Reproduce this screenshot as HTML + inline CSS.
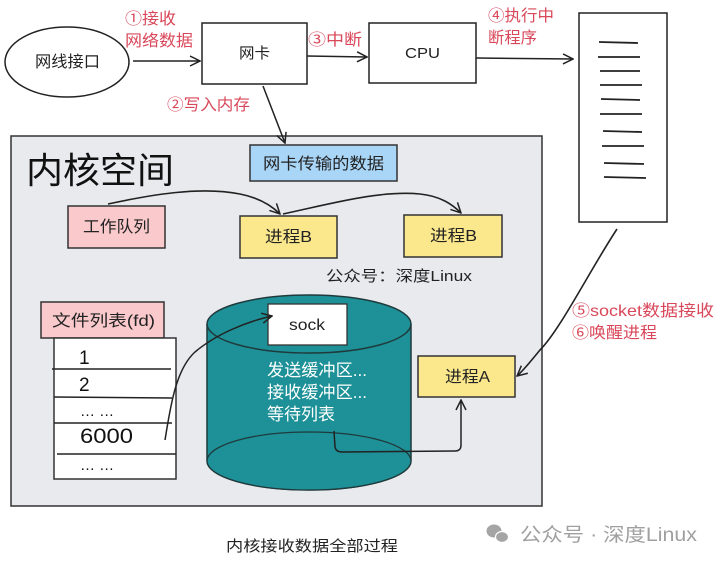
<!DOCTYPE html>
<html><head><meta charset="utf-8"><style>
html,body{margin:0;padding:0;background:#fff;width:720px;height:564px;overflow:hidden}
svg{display:block}
text{font-family:"Liberation Sans","Noto Sans CJK SC",sans-serif}
</style></head><body>
<svg width="720" height="564" viewBox="0 0 720 564" xmlns="http://www.w3.org/2000/svg">
<defs>
<marker id="ah" viewBox="0 0 12 12" refX="11" refY="6" markerWidth="12" markerHeight="12" markerUnits="userSpaceOnUse" orient="auto">
<path d="M1,1 L11,6 L1,11" fill="none" stroke="#222" stroke-width="1.5"/>
</marker>
</defs>
<rect width="720" height="564" fill="#fff"/>

<!-- kernel space -->
<rect x="11" y="136" width="531" height="370" fill="#e9eaee" stroke="#333" stroke-width="1.5"/>
<text x="26" y="183" font-size="36" fill="#111" textLength="148" lengthAdjust="spacingAndGlyphs">内核空间</text>

<!-- ellipse -->
<ellipse cx="67" cy="62" rx="62" ry="35" fill="#fff" stroke="#222" stroke-width="1.5"/>
<text x="35" y="67" font-size="16" fill="#222" textLength="65" lengthAdjust="spacingAndGlyphs">网线接口</text>
<line x1="133" y1="61" x2="200" y2="61" stroke="#222" stroke-width="1.5" marker-end="url(#ah)"/>
<text x="125" y="24" font-size="16" fill="#d9485a" textLength="51" lengthAdjust="spacingAndGlyphs">①接收</text>
<text x="125" y="46" font-size="16" fill="#d9485a" textLength="68" lengthAdjust="spacingAndGlyphs">网络数据</text>

<!-- NIC -->
<rect x="202" y="23" width="105" height="61" fill="#fff" stroke="#222" stroke-width="1.5"/>
<text x="239" y="58" font-size="15" fill="#222" textLength="31" lengthAdjust="spacingAndGlyphs">网卡</text>
<line x1="307" y1="56" x2="367" y2="57" stroke="#222" stroke-width="1.5" marker-end="url(#ah)"/>
<text x="308" y="45" font-size="16" fill="#d9485a" textLength="54" lengthAdjust="spacingAndGlyphs">③中断</text>

<!-- CPU -->
<rect x="369" y="23" width="107" height="60" fill="#fff" stroke="#222" stroke-width="1.5"/>
<text x="405" y="58" font-size="15" fill="#222" textLength="35" lengthAdjust="spacingAndGlyphs">CPU</text>
<line x1="476" y1="58" x2="573" y2="59" stroke="#222" stroke-width="1.5" marker-end="url(#ah)"/>
<text x="488" y="21" font-size="16" fill="#d9485a" textLength="66" lengthAdjust="spacingAndGlyphs">④执行中</text>
<text x="488" y="43" font-size="16" fill="#d9485a" textLength="49" lengthAdjust="spacingAndGlyphs">断程序</text>

<!-- tall box -->
<rect x="579" y="13" width="88" height="209" fill="#fff" stroke="#222" stroke-width="1.5"/>
<g stroke="#222" stroke-width="1.8">
<line x1="599" y1="42" x2="638" y2="43"/>
<line x1="598" y1="57" x2="640" y2="57"/>
<line x1="600" y1="71" x2="640" y2="71"/>
<line x1="600" y1="85" x2="642" y2="85"/>
<line x1="601" y1="99" x2="640" y2="100"/>
<line x1="600" y1="114" x2="642" y2="114"/>
<line x1="603" y1="131" x2="642" y2="132"/>
<line x1="602" y1="146" x2="644" y2="146"/>
<line x1="604" y1="163" x2="644" y2="164"/>
<line x1="604" y1="177" x2="646" y2="178"/>
</g>

<!-- write memory -->
<line x1="263" y1="86" x2="285" y2="143" stroke="#222" stroke-width="1.5" marker-end="url(#ah)"/>
<text x="167" y="110" font-size="16" fill="#d9485a" textLength="83" lengthAdjust="spacingAndGlyphs">②写入内存</text>

<!-- NIC data -->
<rect x="250" y="145" width="147" height="36" fill="#a9d5f7" stroke="#333" stroke-width="1.5"/>
<text x="263" y="169" font-size="16" fill="#222" textLength="121" lengthAdjust="spacingAndGlyphs">网卡传输的数据</text>

<!-- work queue -->
<rect x="68" y="206" width="97" height="42" fill="#f9c9cc" stroke="#333" stroke-width="1.5"/>
<text x="83" y="232" font-size="16" fill="#222" textLength="67" lengthAdjust="spacingAndGlyphs">工作队列</text>

<rect x="240" y="216" width="97" height="42" fill="#fbe88c" stroke="#333" stroke-width="1.5"/>
<text x="265" y="242" font-size="16" fill="#222" textLength="47" lengthAdjust="spacingAndGlyphs">进程B</text>
<rect x="404" y="215" width="98" height="42" fill="#fbe88c" stroke="#333" stroke-width="1.5"/>
<text x="430" y="241" font-size="16" fill="#222" textLength="47" lengthAdjust="spacingAndGlyphs">进程B</text>

<path d="M108,204 C150,195 200,186 240,194 C260,198 272,206 280,214" fill="none" stroke="#222" stroke-width="1.6" marker-end="url(#ah)"/>
<path d="M283,214 C330,204 380,190 420,194 C440,196 452,204 461,213" fill="none" stroke="#222" stroke-width="1.6" marker-end="url(#ah)"/>

<text x="326" y="281" font-size="15" fill="#222" textLength="146" lengthAdjust="spacingAndGlyphs">公众号：深度Linux</text>

<!-- file list -->
<rect x="41" y="302" width="123" height="36" fill="#f9c9cc" stroke="#333" stroke-width="1.5"/>
<text x="52" y="326" font-size="16" fill="#222" textLength="103" lengthAdjust="spacingAndGlyphs">文件列表(fd)</text>
<rect x="54" y="338" width="122" height="141" fill="#fff" stroke="#333" stroke-width="1.5"/>
<g stroke="#222" stroke-width="1.4">
<line x1="52" y1="369" x2="171" y2="369"/>
<line x1="54" y1="397" x2="172" y2="398"/>
<line x1="54" y1="423" x2="172" y2="423"/>
<line x1="57" y1="454" x2="176" y2="454"/>
</g>
<text x="79" y="364" font-size="19" fill="#111">1</text>
<text x="79" y="391" font-size="19" fill="#111">2</text>
<text x="80" y="416" font-size="15" fill="#111">… …</text>
<text x="80" y="443" font-size="21" fill="#111" textLength="53" lengthAdjust="spacingAndGlyphs">6000</text>
<text x="80" y="470" font-size="15" fill="#111">… …</text>

<!-- cylinder -->
<path d="M207,324 L207,461 A102,29 0 0 0 411,461 L411,324" fill="#1d9197" stroke="#1f3a3c" stroke-width="1.5"/>
<ellipse cx="309" cy="461" rx="102" ry="29" fill="#1d9197" stroke="#1f3a3c" stroke-width="1.3"/>
<ellipse cx="309" cy="324" rx="102" ry="29" fill="#1d9197" stroke="#1f3a3c" stroke-width="1.5"/>
<rect x="268" y="304" width="79" height="41" fill="#fff" stroke="#333" stroke-width="1.3"/>
<text x="289" y="330" font-size="16" fill="#222" textLength="36" lengthAdjust="spacingAndGlyphs">sock</text>
<text x="267" y="376" font-size="17" fill="#fff" textLength="100" lengthAdjust="spacingAndGlyphs">发送缓冲区...</text>
<text x="267" y="398" font-size="17" fill="#fff" textLength="100" lengthAdjust="spacingAndGlyphs">接收缓冲区...</text>
<text x="267" y="420" font-size="17" fill="#fff" textLength="68" lengthAdjust="spacingAndGlyphs">等待列表</text>

<!-- arrow fd->sock -->
<path d="M165,440 C170,410 175,370 195,352 C215,335 245,322 272,316" fill="none" stroke="#222" stroke-width="1.5" marker-end="url(#ah)"/>

<!-- process A -->
<rect x="418" y="356" width="97" height="41" fill="#fbe88c" stroke="#333" stroke-width="1.5"/>
<text x="445" y="382" font-size="16" fill="#222" textLength="45" lengthAdjust="spacingAndGlyphs">进程A</text>
<path d="M334,431 L335,447 Q336,452 342,452 L455,451 Q461,451 461,445 L461,400" fill="none" stroke="#222" stroke-width="1.5" marker-end="url(#ah)"/>

<!-- arrow tall box -> process A -->
<path d="M617,229 C590,270 560,330 540,350 C530,362 524,370 517,376" fill="none" stroke="#222" stroke-width="1.6" marker-end="url(#ah)"/>
<text x="572" y="316" font-size="16" fill="#d9485a" textLength="142" lengthAdjust="spacingAndGlyphs">⑤socket数据接收</text>
<text x="572" y="338" font-size="16" fill="#d9485a" textLength="85" lengthAdjust="spacingAndGlyphs">⑥唤醒进程</text>

<!-- caption -->
<text x="226" y="551" font-size="15" fill="#222" textLength="172" lengthAdjust="spacingAndGlyphs">内核接收数据全部过程</text>

<!-- watermark -->
<g fill="#a5a5a5">
<ellipse cx="494" cy="531" rx="7.5" ry="6.5"/>
<ellipse cx="502" cy="537" rx="6.5" ry="5.5" stroke="#fff" stroke-width="1.2"/>
</g>
<text x="520" y="541" font-size="19" fill="#a0a0a0" textLength="177" lengthAdjust="spacingAndGlyphs">公众号 · 深度Linux</text>
</svg>
</body></html>
